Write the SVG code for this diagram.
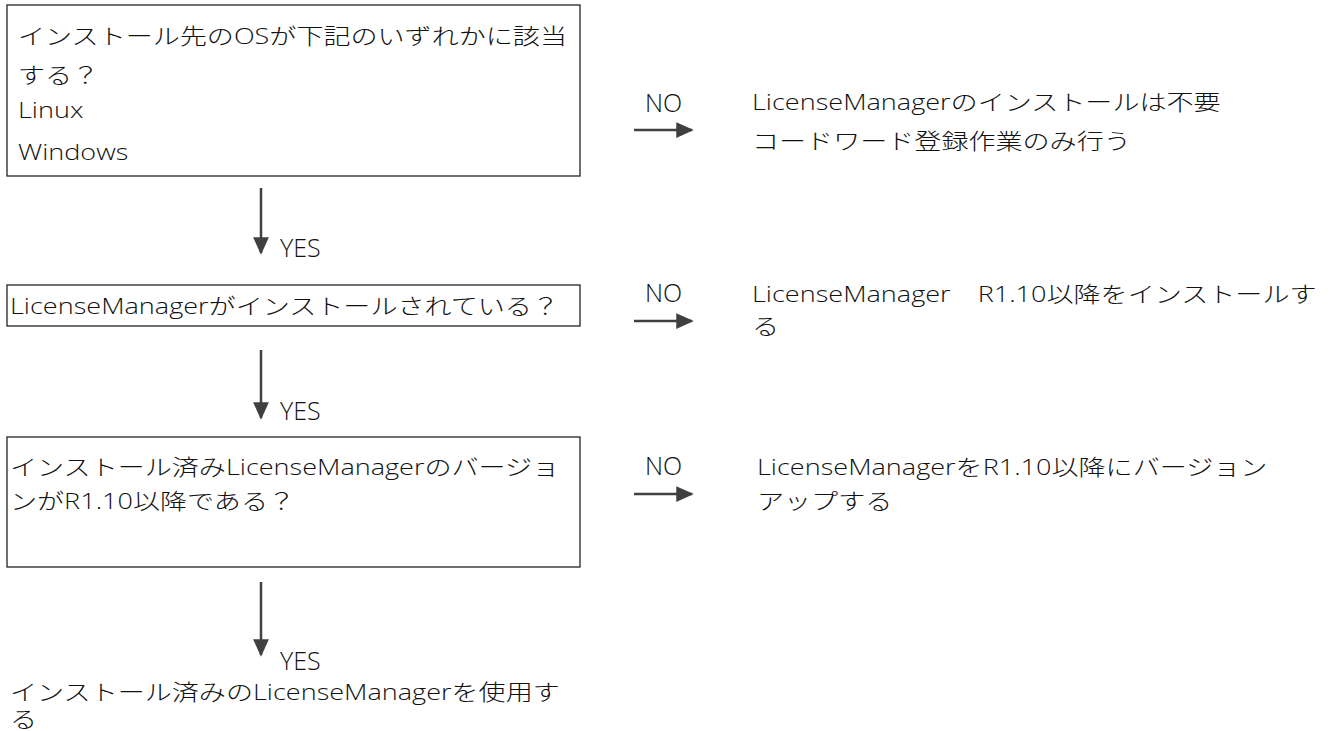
<svg xmlns="http://www.w3.org/2000/svg" width="1335" height="731" viewBox="0 0 1335 731">
<defs>
<style>
.box{fill:#fff;stroke:#222;stroke-width:1.3}
.t{font-family:"Open Sans","Noto Sans CJK JP",sans-serif;font-size:22px;font-weight:300;fill:#111}
.lbl{font-family:"Open Sans","Noto Sans CJK JP",sans-serif;font-size:25px;font-weight:300;fill:#111}
.ln{stroke:#404040;stroke-width:2.5;fill:none}
.hd{fill:#404040}
</style>
<marker id="ah" viewBox="0 0 10 10" refX="9" refY="5" markerWidth="7" markerHeight="7" markerUnits="strokeWidth" orient="auto"><path d="M0,0.5 L10,5 L0,9.5 Z" class="hd"/></marker>
</defs>
<rect width="1335" height="731" fill="#fff"/>
<g id="node-q1">
<rect class="box" x="7" y="5" width="573" height="171"/>
<text class="t" transform="translate(18,44) scale(1.23,1)">インストール先のOSが下記のいずれかに該当</text>
<text class="t" transform="translate(18,83) scale(1.23,1)">する？</text>
<text class="t" transform="translate(18,118) scale(1.23,1)">Linux</text>
<text class="t" transform="translate(18,160) scale(1.23,1)">Windows</text>
</g>
<g id="node-no1">
<text class="t" transform="translate(752,110) scale(1.23,1)">LicenseManagerのインストールは不要</text>
<text class="t" transform="translate(752,149) scale(1.23,1)">コードワード登録作業のみ行う</text>
</g>
<g id="node-q2">
<rect class="box" x="7" y="285" width="573" height="41"/>
<text class="t" transform="translate(10,314) scale(1.23,1)">LicenseManagerがインストールされている？</text>
</g>
<g id="node-no2">
<text class="t" transform="translate(752,302) scale(1.23,1)">LicenseManager　R1.10以降をインストールす</text>
<text class="t" transform="translate(752,334) scale(1.23,1)">る</text>
</g>
<g id="node-q3">
<rect class="box" x="7" y="437" width="573" height="130"/>
<text class="t" transform="translate(10,475) scale(1.23,1)">インストール済みLicenseManagerのバージョ</text>
<text class="t" transform="translate(10,509) scale(1.23,1)">ンがR1.10以降である？</text>
</g>
<g id="node-no3">
<text class="t" transform="translate(757,475) scale(1.23,1)">LicenseManagerをR1.10以降にバージョン</text>
<text class="t" transform="translate(757,509) scale(1.23,1)">アップする</text>
</g>
<g id="node-end">
<text class="t" transform="translate(10,700) scale(1.23,1)">インストール済みのLicenseManagerを使用す</text>
<text class="t" transform="translate(10,727) scale(1.23,1)">る</text>
</g>
<g id="connectors">
<line class="ln" x1="261" y1="188" x2="261" y2="253" marker-end="url(#ah)"/>
<text class="lbl" x="280" y="257">YES</text>
<line class="ln" x1="261" y1="350" x2="261" y2="418" marker-end="url(#ah)"/>
<text class="lbl" x="280" y="420">YES</text>
<line class="ln" x1="261" y1="582" x2="261" y2="655" marker-end="url(#ah)"/>
<text class="lbl" x="280" y="670">YES</text>
<line class="ln" x1="634" y1="130" x2="692" y2="130" marker-end="url(#ah)"/>
<text class="lbl" x="645" y="112">NO</text>
<line class="ln" x1="634" y1="321" x2="692" y2="321" marker-end="url(#ah)"/>
<text class="lbl" x="645" y="302">NO</text>
<line class="ln" x1="634" y1="494" x2="692" y2="494" marker-end="url(#ah)"/>
<text class="lbl" x="645" y="475">NO</text>
</g>
</svg>
